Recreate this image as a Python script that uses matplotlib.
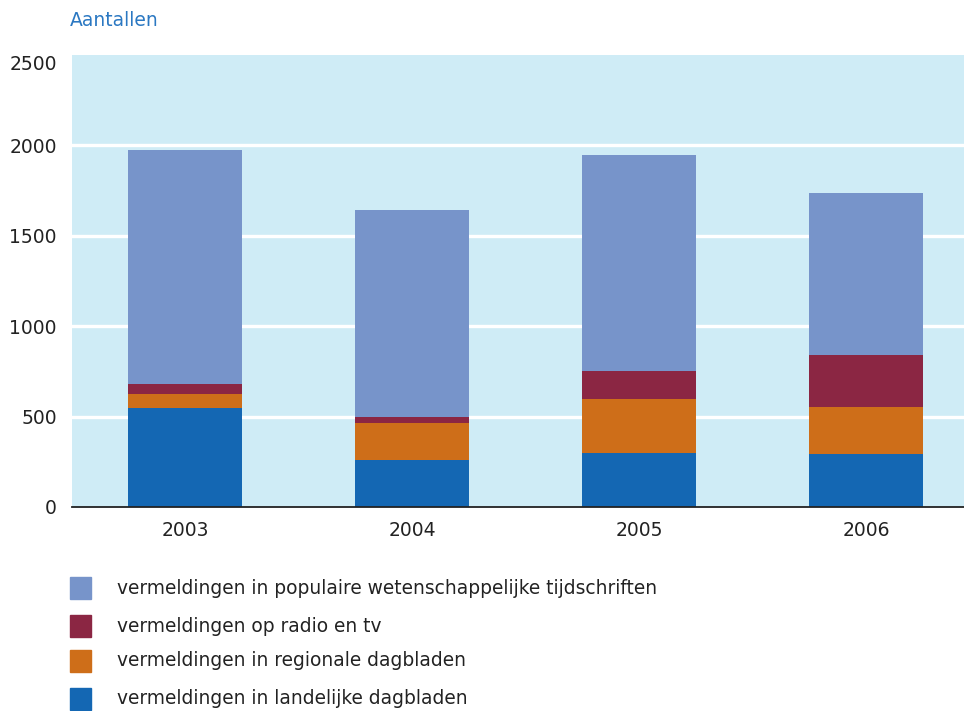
import numpy as np
import matplotlib.pyplot as plt
from matplotlib.patches import Rectangle

jaren = ['2003', '2004', '2005', '2006']
landelijk = [546, 259, 298, 292]
regionaal = [77, 204, 298, 260]
radio_tv = [55, 33, 154, 286]
populair = [1297, 1144, 1195, 897]

labels = ['vermeldingen in populaire wetenschappelijke tijdschriften',
          'vermeldingen op radio en tv',
          'vermeldingen in regionale dagbladen',
          'vermeldingen in landelijke dagbladen']
kleuren = ['#7794CA', '#8B2643', '#CE6E19', '#1467B3']

W, H = 964, 711
fig = plt.figure(figsize=(W/100, H/100), dpi=100)
ax = fig.add_axes([72/W, 1-507/H, (W-72)/W, (507-55)/H])
ax.set_facecolor('#CFECF6')

x = np.arange(len(jaren))
series = [landelijk, regionaal, radio_tv, populair]
cols = kleuren[::-1]
bottom = np.zeros(len(jaren))
for s, c in zip(series, cols):
    ax.bar(x, s, width=0.5, bottom=bottom, color=c, zorder=3)
    bottom += np.array(s)

ax.set_xlim((72-185)/227, (W-185)/227)
ax.set_ylim(0, 2500)
ax.set_yticks([0, 500, 1000, 1500, 2000, 2500])
ax.set_xticks(x)
ax.set_xticklabels(jaren)
for yv in [500, 1000, 1500, 2000]:
    ax.axhline(yv, color='white', lw=2.4, zorder=2)

for sp in ['top', 'right', 'left']:
    ax.spines[sp].set_visible(False)
ax.spines['bottom'].set_color('#222222')
ax.spines['bottom'].set_linewidth(1.3)
ax.spines['bottom'].set_zorder(4)
ax.tick_params(axis='both', length=0, labelsize=13.5, colors='#222222')
ax.tick_params(axis='y', pad=11)
ax.tick_params(axis='x', pad=10)
ax.get_yticklabels()[-1].set_va('top')

fig.text(70/W, 1-20/H, 'Aantallen', color='#2B78C2', fontsize=13.5,
         ha='left', va='center')

# legenda
ys = [588, 626, 661, 699]
for yc, lab, c in zip(ys, labels, kleuren):
    fig.add_artist(Rectangle((70/W, 1-(yc+11)/H), 21/W, 22/H,
                             transform=fig.transFigure, color=c))
    fig.text(117/W, 1-yc/H, lab, fontsize=13.4, color='#222222',
             ha='left', va='center')

fig.savefig('out.png', dpi=100)
